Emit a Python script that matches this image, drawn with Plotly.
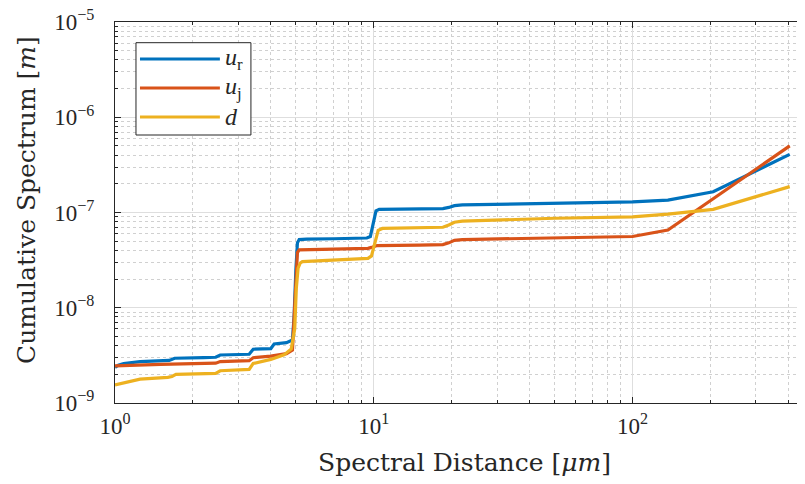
import numpy as np
import plotly.graph_objects as go

# ---------------- data ----------------
ur_x = [1.0, 1.03, 1.08, 1.25, 1.62, 1.70, 2.2, 2.45, 2.55, 3.3, 3.42, 4.0, 4.12, 4.6, 4.85,
        4.92, 5.0, 5.07, 5.15, 5.5, 7, 9.4, 9.7, 9.95, 10.2, 10.5, 15, 18.5, 19.5, 20.5, 22,
        50, 100, 137, 205, 405]
ur_y = [2.37e-9, 2.5e-9, 2.6e-9, 2.72e-9, 2.8e-9, 2.95e-9, 3.0e-9, 3.02e-9, 3.19e-9, 3.25e-9,
        3.67e-9, 3.72e-9, 4.16e-9, 4.3e-9, 4.6e-9, 8e-9, 2.5e-8, 4.8e-8, 5.2e-8, 5.25e-8, 5.3e-8,
        5.4e-8, 5.6e-8, 8e-8, 1.04e-7, 1.08e-7, 1.09e-7, 1.1e-7, 1.13e-7, 1.18e-7, 1.2e-7,
        1.25e-7, 1.29e-7, 1.35e-7, 1.65e-7, 4.08e-7]

uj_x = [1.0, 1.5, 2.45, 2.55, 3.3, 3.42, 4.0, 4.6, 4.85, 4.92, 5.0, 5.07, 5.15, 6, 9.5, 9.8,
        10.3, 15, 18.5, 19.5, 20.5, 22, 50, 100, 137, 405]
uj_y = [2.45e-9, 2.55e-9, 2.62e-9, 2.72e-9, 2.78e-9, 2.99e-9, 3.1e-9, 3.3e-9, 3.6e-9, 7e-9,
        2e-8, 3.8e-8, 4.05e-8, 4.1e-8, 4.2e-8, 4.3e-8, 4.5e-8, 4.55e-8, 4.6e-8, 4.8e-8, 5.1e-8,
        5.2e-8, 5.43e-8, 5.6e-8, 6.55e-8, 5.0e-7]

d_x = [1.0, 1.05, 1.13, 1.25, 1.6, 1.66, 1.72, 2.2, 2.45, 2.55, 3.3, 3.42, 4.0, 4.5, 4.8,
       4.95, 5.02, 5.1, 5.2, 5.3, 7, 9.5, 9.8, 10.1, 10.4, 10.8, 15, 18.5, 19.5, 20.5, 22,
       50, 100, 137, 205, 405]
d_y = [1.55e-9, 1.6e-9, 1.66e-9, 1.78e-9, 1.86e-9, 1.9e-9, 2.0e-9, 2.03e-9, 2.05e-9, 2.18e-9,
       2.25e-9, 2.6e-9, 2.87e-9, 3.2e-9, 3.7e-9, 6e-9, 1.6e-8, 2.6e-8, 2.95e-8, 3.05e-8,
       3.15e-8, 3.3e-8, 3.5e-8, 5e-8, 6.5e-8, 6.8e-8, 6.9e-8, 7.0e-8, 7.4e-8, 7.9e-8, 8.1e-8,
       8.7e-8, 9.0e-8, 9.6e-8, 1.08e-7, 1.87e-7]

series_names = ["<i>u</i><sub>r</sub>", "<i>u</i><sub>j</sub>", "<i>d</i>"]
series_colors = ["#0072BD", "#D95319", "#EDB120"]

x_tickvals = [1, 10, 100]
x_ticktext = ["10<sup>0</sup>", "10<sup>1</sup>", "10<sup>2</sup>"]
y_tickvals = [1e-9, 1e-8, 1e-7, 1e-6, 1e-5]
y_ticktext = ["10<sup>\u22129</sup>", "10<sup>\u22128</sup>", "10<sup>\u22127</sup>",
              "10<sup>\u22126</sup>", "10<sup>\u22125</sup>"]

x_title = "Spectral Distance [<i>\u03bcm</i>]"
y_title = "Cumulative Spectrum [<i>m</i>]"

x_minor = [m * 10 ** e for e in range(0, 3) for m in range(2, 10) if m * 10 ** e < 470]
y_minor = [m * 10.0 ** e for e in range(-9, -5) for m in range(2, 10)]

TICKFONT = "Liberation Serif"
TITLEFONT = "DejaVu Serif"
INK = "#262626"

fig = go.Figure()
for xs, ys, name, col in zip([ur_x, uj_x, d_x], [ur_y, uj_y, d_y], series_names, series_colors):
    fig.add_trace(go.Scatter(x=xs, y=ys, mode="lines", name=name,
                             line=dict(color=col, width=3.2), showlegend=False))

axis_common = dict(
    type="log", showline=True, linecolor=INK, linewidth=1.2, automargin=False,
    ticks="inside", ticklen=6, tickwidth=1, tickcolor=INK, ticklabeloverflow="allow",
    showgrid=True, gridcolor="#dedede", gridwidth=1, zeroline=False,
    tickfont=dict(family=TICKFONT, size=23, color=INK),
)

fig.update_xaxes(**axis_common, range=[0, np.log10(464)], mirror="ticks",
                 tickvals=x_tickvals, ticktext=x_ticktext, ticklabelstandoff=2,
                 minor=dict(tickvals=x_minor, ticks="inside", ticklen=3, tickcolor=INK,
                            showgrid=True, gridcolor="#d0d0d0", griddash="dot", gridwidth=1))
fig.update_yaxes(**axis_common, range=[-9, -5], mirror=False,
                 tickvals=y_tickvals, ticktext=y_ticktext, ticklabelstandoff=15,
                 minor=dict(tickvals=y_minor, ticks="inside", ticklen=3, tickcolor=INK,
                            showgrid=True, gridcolor="#d0d0d0", griddash="dot", gridwidth=1))

# axis titles placed as annotations
fig.add_annotation(xref="paper", yref="paper", x=0.507, y=-0.157, text=x_title,
                   showarrow=False, xanchor="center", yanchor="middle",
                   font=dict(family=TITLEFONT, size=25, color=INK))
fig.add_annotation(xref="paper", yref="paper", x=-0.1275, y=0.533, text=y_title,
                   showarrow=False, xanchor="center", yanchor="middle", textangle=-90,
                   font=dict(family=TITLEFONT, size=25, color=INK))

# custom legend box (MATLAB style)
fig.add_shape(type="rect", xref="paper", yref="paper", x0=0.0304, x1=0.197, y0=0.7034, y1=0.9457,
              line=dict(color=INK, width=1), fillcolor="white", layer="above")
rows = [0.9029, 0.8268, 0.7507]
for yr, name, col in zip(rows, series_names, series_colors):
    fig.add_shape(type="line", xref="paper", yref="paper", x0=0.0362, x1=0.152, y0=yr, y1=yr,
                  line=dict(color=col, width=3.2), layer="above")
    fig.add_annotation(xref="paper", yref="paper", x=0.156, y=yr, text=name, showarrow=False,
                       xanchor="left", yanchor="middle",
                       font=dict(family=TICKFONT, size=24, color=INK))

# the page body adds an 8px offset; size the figure so the plot lands where the reference has it
fig.update_layout(width=797, height=476, margin=dict(l=107, r=0, t=14, b=81),
                  plot_bgcolor="white", paper_bgcolor="white", showlegend=False)

fig.write_html("out.html")
